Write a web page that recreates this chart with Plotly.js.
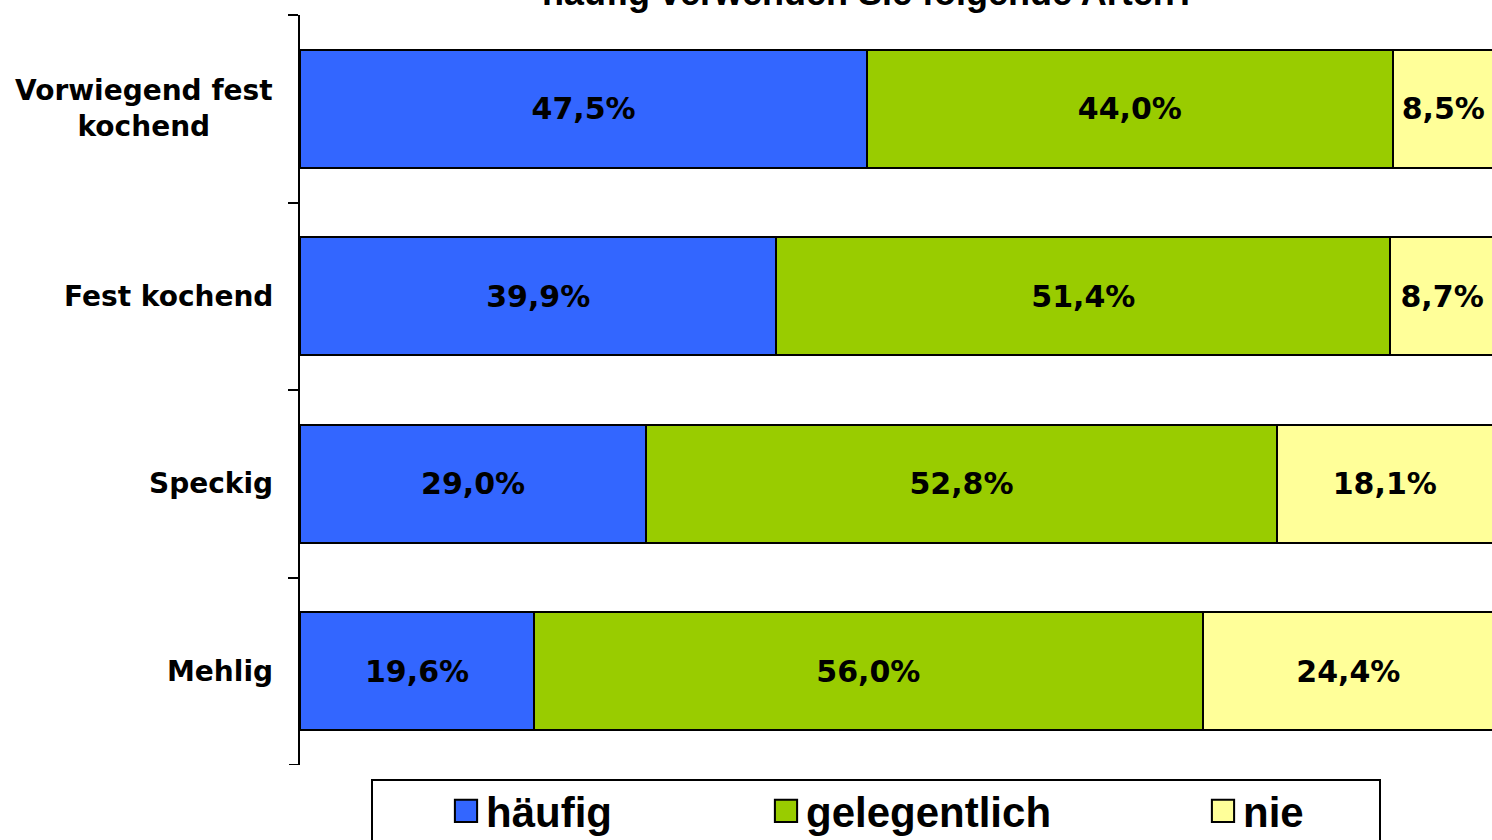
<!DOCTYPE html>
<html>
<head>
<meta charset="utf-8">
<script src="https://cdn.plot.ly/plotly-3.0.1.min.js"></script>
<style>
html,body{margin:0;padding:0;background:#fff;}
#chart{width:1492px;height:840px;}
.legend .legendpoints path,
.legend2 .legendpoints path,
.legend3 .legendpoints path{transform:translate(20px,0px) scale(1.85);stroke-width:1.1px !important;}
</style>
</head>
<body>
<div id="chart"></div>
<script>
const categories = ['Vorwiegend fest kochend', 'Fest kochend', 'Speckig', 'Mehlig'];
const categoryLabels = ['Vorwiegend fest<br>kochend', 'Fest kochend', 'Speckig', 'Mehlig'];
const seriesNames = ['häufig', 'gelegentlich', 'nie'];
const haeufig = [47.5, 39.9, 29.0, 19.6];
const gelegentlich = [44.0, 51.4, 52.8, 56.0];
const nie = [8.5, 8.7, 18.1, 24.4];
const titleText = 'häufig verwenden Sie folgende Arten?';

const colors = ['#3366FF', '#99CC00', '#FFFF99'];
const values = [haeufig, gelegentlich, nie];
const legendIds = ['legend', 'legend2', 'legend3'];

const W = 1492, H = 840;
const L = 300, T = 15, B = 75, R = 0;
const plotW = W - L - R, plotH = H - T - B;
const px2x = p => (p - L) / plotW;
const px2y = p => (H - B - p) / plotH;
const px2cx = p => p / W;
const px2cy = p => (H - p) / H;

const traces = values.map((v, i) => ({
  type: 'bar',
  orientation: 'h',
  name: seriesNames[i],
  y: categories,
  x: v,
  legend: legendIds[i],
  marker: {color: colors[i], line: {color: '#000', width: 2}},
  texttemplate: '%{x:.1f}%',
  textposition: 'inside',
  insidetextanchor: 'middle',
  textangle: 0,
  constraintext: 'none',
  insidetextfont: {family: 'DejaVu Sans', size: 30, color: '#000', weight: 700},
  hoverinfo: 'skip'
}));

const legendSymbolX = [466, 786, 1223];
const legendCommon = {
  orientation: 'h',
  bgcolor: 'rgba(0,0,0,0)',
  borderwidth: 0,
  font: {family: 'Liberation Sans', size: 42, color: '#000', weight: 700},
  xref: 'container', yref: 'container',
  xanchor: 'left',
  yanchor: 'top',
  y: px2cy(777)
};

const annotations = categories.map((c, i) => ({
  xref: 'paper', yref: 'y',
  x: 0, y: c,
  xanchor: 'right', yanchor: 'middle',
  xshift: -25,
  align: 'center',
  showarrow: false,
  text: categoryLabels[i],
  font: {family: 'DejaVu Sans', size: 28, color: '#000', weight: 700}
}));
annotations.push({
  xref: 'paper', yref: 'paper',
  x: px2x(869), y: px2y(-7),
  xanchor: 'center', yanchor: 'middle',
  showarrow: false,
  text: titleText,
  font: {family: 'Liberation Sans', size: 36, color: '#000', weight: 700}
});

const layout = {
  width: W, height: H,
  margin: {l: L, r: R, t: T, b: B, pad: 0},
  paper_bgcolor: '#fff',
  plot_bgcolor: '#fff',
  barmode: 'stack',
  bargap: 0.37,
  separators: ',.',
  showlegend: true,
  xaxis: {
    range: [0, 99.83],
    showgrid: false, zeroline: false, showline: false,
    showticklabels: false, ticks: '', fixedrange: true
  },
  yaxis: {
    type: 'category',
    range: [3.5, -0.5],
    showgrid: false, zeroline: false,
    showline: true, linecolor: '#000', linewidth: 2,
    ticks: 'outside', tickson: 'boundaries', ticklen: 10, tickwidth: 2, tickcolor: '#000',
    showticklabels: false, fixedrange: true
  },
  legend: Object.assign({}, legendCommon, {x: px2cx(legendSymbolX[0] - 20)}),
  legend2: Object.assign({}, legendCommon, {x: px2cx(legendSymbolX[1] - 20)}),
  legend3: Object.assign({}, legendCommon, {x: px2cx(legendSymbolX[2] - 20)}),
  shapes: [{
    type: 'rect', xref: 'paper', yref: 'paper',
    x0: px2x(372), x1: px2x(1380), y0: px2y(780), y1: px2y(900),
    line: {color: '#000', width: 2}, fillcolor: 'rgba(0,0,0,0)', layer: 'below'
  }, {
    type: 'line', xref: 'paper', yref: 'y',
    x0: px2x(289), x1: px2x(300), y0: categories.length - 0.5, y1: categories.length - 0.5,
    line: {color: '#000', width: 2}
  }],
  annotations: annotations
};

Plotly.newPlot('chart', traces, layout, {displayModeBar: false, staticPlot: true});
</script>
</body>
</html>
